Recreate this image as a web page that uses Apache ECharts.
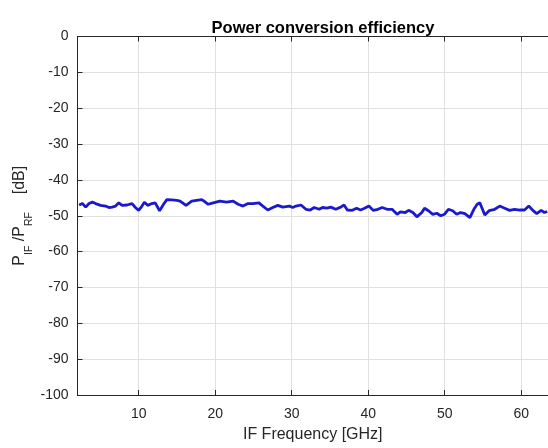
<!DOCTYPE html>
<html style="height: 100%">
<head>
    <meta charset="utf-8">
    <title>Power conversion efficiency</title>
</head>
<body style="height: 100%; margin: 0; background: #fff;">
<div id="container" style="width: 548px; height: 448px"></div>
<script src="https://cdn.jsdelivr.net/npm/echarts@6/dist/echarts.min.js"></script>
<script type="text/javascript">

    // IF frequency [GHz] and P_IF/P_RF [dB]
    var freqGHz = [
        2.21, 2.64, 3.07, 3.51, 3.94, 4.37, 5.02, 5.67, 6.10, 6.54,
        6.97, 7.40, 7.84, 8.48, 9.13, 9.57, 10.00, 10.43, 10.74, 11.17,
        11.73, 12.16, 12.73, 13.25, 13.68, 14.33, 14.98, 15.41, 16.19, 16.93,
        17.58, 18.23, 18.66, 19.09, 19.74, 20.61, 21.47, 22.34, 22.99, 23.64,
        24.29, 24.94, 25.71, 26.23, 26.88, 27.53, 28.18, 28.83, 29.70, 30.13,
        30.56, 31.21, 31.86, 32.42, 32.94, 33.59, 34.03, 34.59, 35.11, 35.76,
        36.41, 36.84, 37.27, 37.92, 38.48, 39.00, 39.52, 40.09, 40.65, 41.26,
        41.82, 42.47, 43.12, 43.77, 44.20, 44.85, 45.28, 45.84, 46.36, 47.01,
        47.36, 47.88, 48.44, 48.96, 49.48, 49.96, 50.48, 51.04, 51.56, 52.08,
        52.64, 53.29, 53.81, 54.24, 54.59, 55.02, 55.24, 55.80, 56.54, 57.19,
        57.84, 58.48, 59.13, 59.78, 60.43, 60.99, 61.52, 62.03, 62.60, 63.03,
        63.40
    ];
    var pceDb = [
        -47.0, -46.6, -47.6, -46.6, -46.2, -46.6, -47.1, -47.3, -47.7, -47.6,
        -47.3, -46.4, -47.1, -47.0, -46.6, -47.7, -48.5, -47.3, -46.2, -47.1,
        -46.6, -46.4, -48.6, -46.8, -45.5, -45.6, -45.7, -45.9, -47.1, -45.9,
        -45.7, -45.5, -46.1, -46.8, -46.4, -45.9, -46.2, -45.9, -46.8, -47.3,
        -46.6, -46.6, -46.4, -47.3, -48.4, -47.7, -47.1, -47.6, -47.3, -47.7,
        -47.3, -47.0, -48.2, -48.4, -47.7, -48.2, -47.7, -47.9, -47.6, -48.2,
        -47.6, -47.0, -48.4, -48.5, -47.9, -48.4, -47.9, -47.3, -48.5, -48.2,
        -47.7, -48.2, -48.2, -49.6, -48.9, -49.1, -48.5, -49.1, -50.3, -49.1,
        -47.9, -48.6, -49.6, -49.3, -50.0, -49.6, -48.2, -48.6, -49.6, -49.1,
        -49.4, -50.5, -48.2, -46.8, -46.4, -48.6, -49.8, -48.6, -48.2, -47.3,
        -47.9, -48.5, -48.2, -48.4, -48.4, -47.3, -48.5, -49.4, -48.5, -49.1,
        -48.8
    ];
    var xTicks = [10, 20, 30, 40, 50, 60];
    var yTicks = [0, -10, -20, -30, -40, -50, -60, -70, -80, -90, -100];

    var font = 'Liberation Sans, Arial, sans-serif';
    var ink = '#262626';

    var points = [];
    for (var i = 0; i < freqGHz.length; i++) {
        points.push([freqGHz[i], pceDb[i]]);
    }

    var dom = document.getElementById("container");
    var myChart = echarts.init(dom, null, {renderer: 'canvas'});
    var option = {
        animation: false,
        backgroundColor: '#ffffff',
        title: {
            text: 'Power conversion efficiency',
            left: 318,
            top: 15,
            textAlign: 'center',
            textStyle: {
                fontFamily: font,
                fontSize: 16.5,
                fontWeight: 'bold',
                color: '#000000'
            }
        },
        grid: {
            left: 77.5,
            right: 0,
            top: 36.5,
            bottom: 47
        },
        xAxis: [{
            type: 'value',
            min: 2,
            max: 63.5,
            position: 'bottom',
            name: 'IF Frequency [GHz]',
            nameLocation: 'middle',
            nameGap: 32,
            nameMoveOverlap: false,
            nameTextStyle: {fontFamily: font, fontSize: 16, color: ink},
            axisLine: {show: true, onZero: false, lineStyle: {color: ink, width: 1}},
            axisTick: {show: true, inside: true, length: 5, lineStyle: {color: ink}},
            axisLabel: {
                fontFamily: font,
                fontSize: 14,
                color: ink,
                margin: 12,
                showMinLabel: false,
                showMaxLabel: false,
                formatter: function (v) {
                    return xTicks.indexOf(v) >= 0 ? String(v) : '';
                }
            },
            splitLine: {show: true, lineStyle: {color: '#e0e0e0', width: 1}}
        }, {
            type: 'value',
            min: 2,
            max: 63.5,
            position: 'top',
            axisLine: {show: true, onZero: false, lineStyle: {color: ink, width: 1}},
            axisTick: {show: true, inside: true, length: 5, lineStyle: {color: ink}},
            axisLabel: {show: false},
            splitLine: {show: false}
        }],
        yAxis: {
            type: 'value',
            min: yTicks[yTicks.length - 1],
            max: yTicks[0],
            interval: 10,
            name: 'P{sub|IF} /P{sub|RF}    [dB]',
            nameLocation: 'middle',
            nameGap: 43,
            nameMoveOverlap: false,
            nameTextStyle: {
                fontFamily: font,
                fontSize: 16,
                color: ink,
                rich: {
                    sub: {
                        fontFamily: font,
                        fontSize: 10.5,
                        color: ink,
                        verticalAlign: 'bottom',
                        lineHeight: 30
                    }
                }
            },
            axisLine: {show: true, onZero: false, lineStyle: {color: ink, width: 1}},
            axisTick: {show: true, inside: true, length: 5, lineStyle: {color: ink}},
            axisLabel: {fontFamily: font, fontSize: 14, color: ink, margin: 9},
            splitLine: {show: true, lineStyle: {color: '#e0e0e0', width: 1}}
        },
        series: [{
            type: 'line',
            data: points,
            showSymbol: false,
            symbol: 'none',
            clip: true,
            lineStyle: {color: '#1a1acc', width: 2.8},
            z: 5
        }]
    };
    myChart.setOption(option, true);

</script>
</body>
</html>
